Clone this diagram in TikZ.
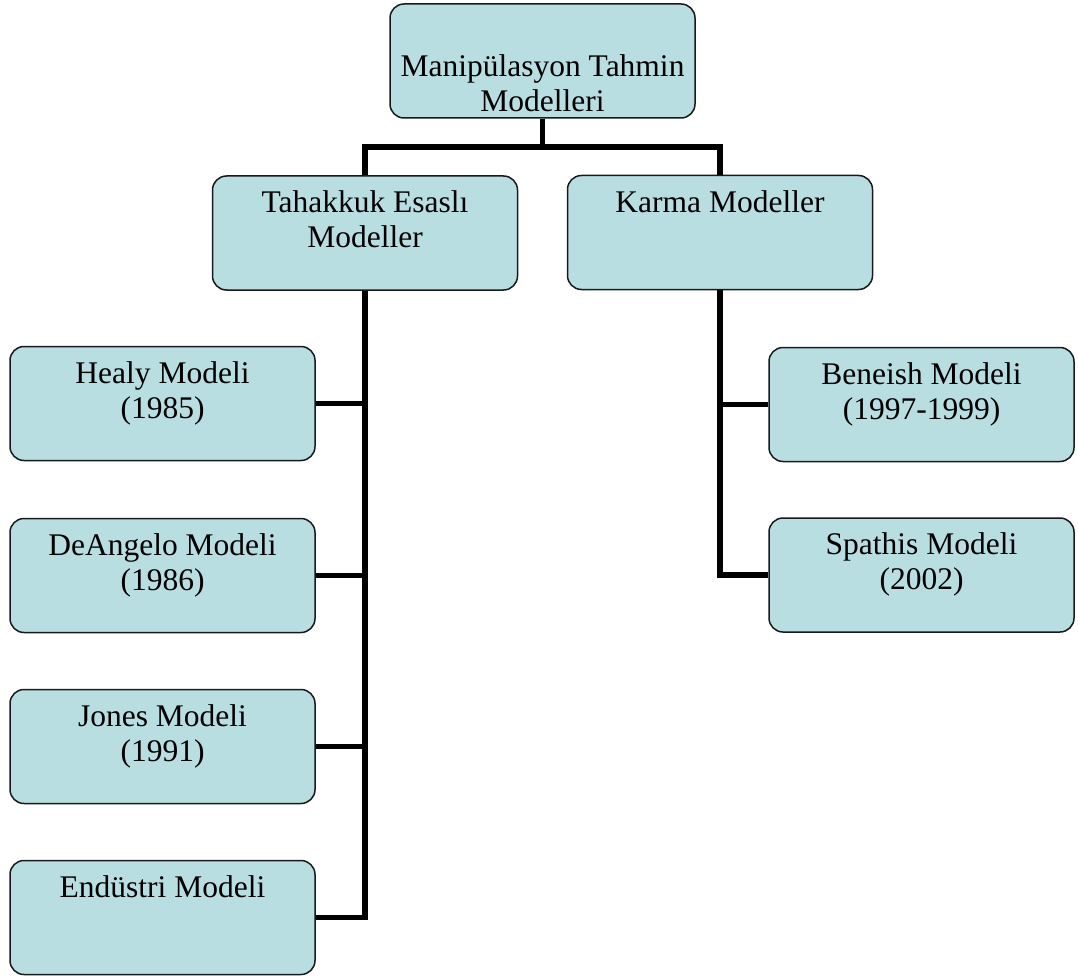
\documentclass[tikz,border=0pt]{standalone}
\usepackage{fontspec}
\setmainfont{Liberation Serif}
\definecolor{boxfill}{RGB}{184,222,226}
\newcommand\boxtxt[2]{\parbox[c][114pt][t]{300pt}{\centering\rule{0pt}{#1}#2}}
\begin{document}
\begin{tikzpicture}[x=1pt,y=-1pt,
  mbox/.style={draw=black!90, line width=1.5pt, fill=boxfill, rounded corners=14pt,
    minimum width=305pt, minimum height=114pt, inner sep=0pt,
    font=\fontsize{31.5}{35}\selectfont},
  conn/.style={line width=5.5pt, line join=miter, black}]
\useasboundingbox (0,0) rectangle (1078,976);
\node[mbox] (top) at (542.5,61) {\boxtxt{73pt}{Manipülasyon Tahmin\\Modelleri}};
\node[mbox] (tah) at (365,233) {\boxtxt{36.5pt}{Tahakkuk Esaslı\\Modeller}};
\node[mbox] (kar) at (720,232.5) {\boxtxt{37.5pt}{Karma Modeller}};
\node[mbox] (healy) at (162.5,403.5) {\boxtxt{36.5pt}{Healy Modeli\\(1985)}};
\node[mbox] (deang) at (162.5,575.5) {\boxtxt{36.5pt}{DeAngelo Modeli\\(1986)}};
\node[mbox] (jones) at (162.5,746.5) {\boxtxt{36.5pt}{Jones Modeli\\(1991)}};
\node[mbox] (endu) at (162.5,917.5) {\boxtxt{36.5pt}{Endüstri Modeli}};
\node[mbox] (ben) at (921.5,404.5) {\boxtxt{36.5pt}{Beneish Modeli\\(1997-1999)}};
\node[mbox] (spa) at (921.5,575) {\boxtxt{36.5pt}{Spathis Modeli\\(2002)}};
\coordinate (bus) at (542.5,147);
\draw[conn] (top.south) -- (bus);
\draw[conn] (tah.north) |- (bus) -| (kar.north);
\draw[conn] (tah.south) |- (endu.east);
\draw[conn] (healy.east) -- (healy.east -| tah.south);
\draw[conn] (deang.east) -- (deang.east -| tah.south);
\draw[conn] (jones.east) -- (jones.east -| tah.south);
\draw[conn] (kar.south) |- (spa.west);
\draw[conn] (ben.west) -- (ben.west -| kar.south);
\end{tikzpicture}
\end{document}
